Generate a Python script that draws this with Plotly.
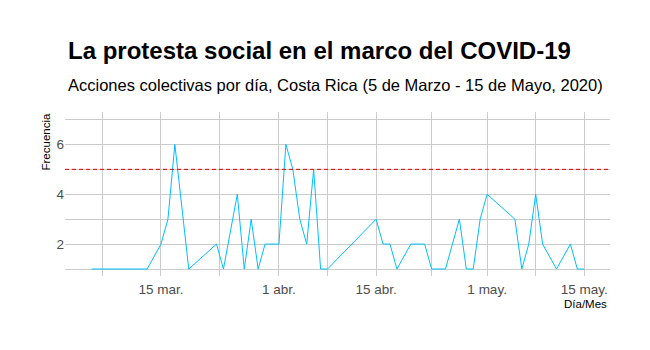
import plotly.graph_objects as go

# ---- data ----
fechas = [
    "2020-03-05", "2020-03-08", "2020-03-11", "2020-03-13", "2020-03-15", "2020-03-16",
    "2020-03-17", "2020-03-19", "2020-03-23", "2020-03-24", "2020-03-26", "2020-03-27",
    "2020-03-28", "2020-03-29", "2020-03-30", "2020-03-31", "2020-04-01", "2020-04-02",
    "2020-04-03", "2020-04-04", "2020-04-05", "2020-04-06", "2020-04-07", "2020-04-08",
    "2020-04-15", "2020-04-16", "2020-04-17", "2020-04-18", "2020-04-20", "2020-04-21",
    "2020-04-22", "2020-04-23", "2020-04-24", "2020-04-25", "2020-04-27", "2020-04-28",
    "2020-04-29", "2020-04-30", "2020-05-01", "2020-05-05", "2020-05-06", "2020-05-07",
    "2020-05-08", "2020-05-09", "2020-05-11", "2020-05-13", "2020-05-14", "2020-05-15",
]
frecuencia = [
    1, 1, 1, 1, 2, 3,
    6, 1, 2, 1, 4, 1,
    3, 1, 2, 2, 2, 6,
    5, 3, 2, 5, 1, 1,
    3, 2, 2, 1, 2, 2,
    2, 1, 1, 1, 3, 1,
    1, 3, 4, 3, 1, 2,
    4, 2, 1, 2, 1, 1,
]
umbral = 5

x_tickvals = ["2020-03-15", "2020-04-01", "2020-04-15", "2020-05-01", "2020-05-15"]
x_ticktext = ["15 mar.", "1 abr.", "15 abr.", "1 may.", "15 may."]
x_minor = ["2020-03-06 12:00", "2020-03-23 12:00", "2020-04-08", "2020-04-23", "2020-05-08"]
y_tickvals = [2, 4, 6]
y_minor = [1, 3, 5, 7]

titulo = "La protesta social en el marco del COVID-19"
subtitulo = "Acciones colectivas por día, Costa Rica (5 de Marzo - 15 de Mayo, 2020)"

FONT = "Liberation Sans, Arial, sans-serif"
GRID = "#cbcbcb"

# panel geometry (pixels)
L, R, T, B = 65, 40, 112, 74
W, H = 650, 350
PW, PH = W - L - R, H - T - B

def px_x(p):
    return (p - L) / PW

def px_y(p):
    return (H - B - p) / PH

fig = go.Figure()
fig.add_trace(go.Scatter(
    x=fechas, y=frecuencia, mode="lines",
    line=dict(color="#00bfff", width=1),
    hoverinfo="skip", showlegend=False,
))
fig.add_shape(type="line", xref="paper", yref="y", x0=0, x1=1, y0=umbral, y1=umbral,
              line=dict(color="#dd0000", width=1, dash="4px,3px"), layer="above")

fig.update_layout(
    width=W, height=H,
    margin=dict(l=L, r=R, t=T, b=B),
    paper_bgcolor="white", plot_bgcolor="white",
    font=dict(family=FONT, color="#4d4d4d"),
    showlegend=False,
    xaxis=dict(
        type="date",
        range=["2020-03-01 04:00", "2020-05-18 17:00"],
        tickmode="array", tickvals=x_tickvals, ticktext=x_ticktext,
        showgrid=True, gridcolor=GRID, gridwidth=1,
        minor=dict(tickmode="array", tickvals=x_minor, showgrid=True, gridcolor=GRID, gridwidth=1),
        zeroline=False, showline=False, ticks="",
        ticklabelstandoff=3,
        tickfont=dict(size=13.5, color="#4d4d4d", family=FONT),
        fixedrange=True,
    ),
    yaxis=dict(
        range=[0.72, 7.3],
        tickmode="array", tickvals=y_tickvals,
        showgrid=True, gridcolor=GRID, gridwidth=1,
        minor=dict(tickmode="array", tickvals=y_minor, showgrid=True, gridcolor=GRID, gridwidth=1),
        zeroline=False, showline=False, ticks="",
        tickfont=dict(size=13.5, color="#4d4d4d", family=FONT),
        fixedrange=True,
    ),
    annotations=[
        dict(text="<b>" + titulo + "</b>", xref="paper", yref="paper",
             x=px_x(66), y=px_y(50), xanchor="left", yanchor="middle", showarrow=False,
             font=dict(size=24, color="black", family=FONT)),
        dict(text=subtitulo, xref="paper", yref="paper",
             x=px_x(66), y=px_y(85), xanchor="left", yanchor="middle", showarrow=False,
             font=dict(size=16.5, color="black", family=FONT)),
        dict(text="Frecuencia", xref="paper", yref="paper", textangle=-90,
             x=px_x(45), y=px_y(112), xanchor="center", yanchor="top", showarrow=False,
             font=dict(size=11.5, color="black", family=FONT)),
        dict(text="Día/Mes", xref="paper", yref="paper",
             x=px_x(609), y=px_y(304), xanchor="right", yanchor="middle", showarrow=False,
             font=dict(size=11.5, color="black", family=FONT)),
    ],
)

fig.write_html("out.html", config={"displayModeBar": False})
